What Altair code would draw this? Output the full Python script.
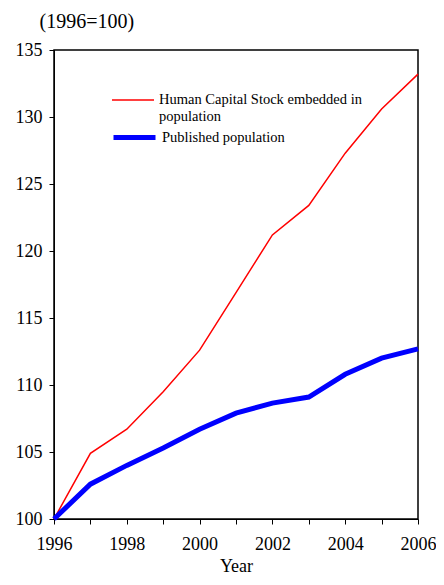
import altair as alt
import pandas as pd

years = list(range(1996, 2007))
human_capital = [100, 104.9, 106.7, 109.5, 112.6, 116.9, 121.2, 123.4, 127.3, 130.6, 133.2]
published_pop = [100, 102.6, 104.0, 105.3, 106.7, 107.9, 108.65, 109.1, 110.8, 112.0, 112.7]
series_names = ["Human Capital Stock embedded in population", "Published population"]
series_colors = ["#FF0000", "#0000FF"]
series_widths = [1.5, 5]

df_hc = pd.DataFrame({"year": years, "value": human_capital, "series": series_names[0]})
df_pp = pd.DataFrame({"year": years, "value": published_pop, "series": series_names[1]})

FONT = "Liberation Serif"

x_enc = alt.X("year:Q",
              scale=alt.Scale(domain=[1996, 2006], nice=False, zero=False),
              axis=alt.Axis(values=years, format="d",
                            labelExpr="datum.value % 2 == 0 ? datum.label : ''",
                            title="Year", titleFontWeight="normal", titleFontSize=18,
                            titleFont=FONT, labelFont=FONT,
                            titleColor="black", labelColor="black",
                            domainColor="black", tickColor="black",
                            titlePadding=4, grid=False, tickSize=5,
                            labelFontSize=18, labelPadding=11, labelFlush=False))
y_enc = alt.Y("value:Q",
              scale=alt.Scale(domain=[100, 135], nice=False, zero=False),
              axis=alt.Axis(values=[100, 105, 110, 115, 120, 125, 130, 135],
                            title="(1996=100)", titleAngle=0, titleAlign="left",
                            titleBaseline="alphabetic", titleX=-15, titleY=-23,
                            titleFontWeight="normal", titleFontSize=20,
                            titleFont=FONT, labelFont=FONT,
                            titleColor="black", labelColor="black",
                            domainColor="black", tickColor="black",
                            grid=False, tickSize=5, labelFontSize=18, labelPadding=7))

red = alt.Chart(df_hc).mark_line(strokeWidth=series_widths[0]).encode(
    x=x_enc, y=y_enc,
    color=alt.Color("series:N",
                    scale=alt.Scale(domain=[series_names[0]], range=[series_colors[0]]),
                    legend=alt.Legend(title=None, orient="none", legendX=57, legendY=28,
                                      symbolType="stroke", symbolSize=1764,
                                      symbolStrokeWidth=series_widths[0],
                                      labelFontSize=14.5, labelFont=FONT, labelLimit=400,
                                      labelColor="black",
                                      labelExpr="['Human Capital Stock embedded in', 'population']",
                                      labelBaseline="middle", labelOffset=4)),
)
blue = alt.Chart(df_pp).mark_line(strokeWidth=series_widths[1]).encode(
    x=x_enc, y=y_enc,
    color=alt.Color("series:N",
                    scale=alt.Scale(domain=[series_names[1]], range=[series_colors[1]]),
                    legend=alt.Legend(title=None, orient="none", legendX=57, legendY=64,
                                      symbolType="stroke", symbolSize=1764,
                                      symbolStrokeWidth=series_widths[1],
                                      labelFontSize=14.5, labelFont=FONT, labelLimit=400,
                                      labelColor="black",
                                      labelBaseline="middle", labelOffset=4)),
)

chart = alt.layer(red, blue).resolve_scale(color="independent").resolve_legend(
    color="independent"
).properties(
    width=364, height=469,
    padding={"left": 46, "top": 42, "right": 18, "bottom": 58},
    autosize=alt.AutoSizeParams(type="none"),
).configure(
    background="white"
).configure_view(
    stroke="black", strokeWidth=1.5
)

chart.save("out.html", embed_options={"renderer": "svg", "actions": False})
